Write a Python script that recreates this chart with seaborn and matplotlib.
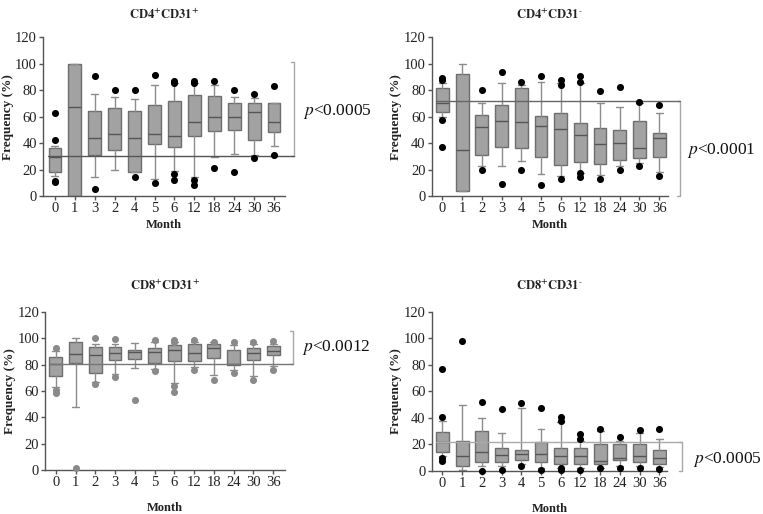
import numpy as np
import pandas as pd
import matplotlib
matplotlib.use("Agg")
import matplotlib.pyplot as plt
import seaborn as sns

months = ["0", "1", "2", "3", "4", "5", "6", "12", "18", "24", "30", "36"]
months_a = ["0", "1", "3", "2", "4", "5", "6", "12", "18", "24", "30", "36"]

# CD4+CD31+
a_lo = [15, 0, 14.5, 20, 18, 13, 19, 14, 29.5, 32, 31, 37.5]
a_q1 = [18.5, 0, 31, 35, 18.5, 39, 37, 45, 49, 50, 42.5, 48]
a_med = [29.5, 67, 43.5, 47, 44, 46.5, 45.5, 56, 60, 59.5, 63.5, 56]
a_q3 = [36, 100, 64, 66.5, 64.5, 69, 72, 76.5, 75.5, 70.5, 70.5, 70.5]
a_hi = [38, 100, 77, 75, 73, 83.5, 85, 85, 83.5, 75, 74, 70.5]
a_fl = [[63, 42.5, 11.5, 10.5], [], [91, 5.5], [80], [80, 14], [91.5, 9.5],
        [87, 85.5, 16.5, 12], [87, 85.5, 12, 8.5], [87, 21], [80, 18], [77, 29], [83, 31]]

# CD4+CD31-
b_lo = [60, 3.5, 22.5, 22.5, 26.5, 16.5, 15, 17, 16, 23, 25, 18]
b_q1 = [63.5, 3.5, 31, 37, 36.5, 29.5, 23.5, 25.5, 24, 27.5, 29, 29.5]
b_med = [70.5, 34.5, 52, 56.5, 56, 53, 50.5, 46, 39.5, 40, 36, 43.5]
b_q3 = [81.5, 92, 61.5, 68.5, 81.5, 60.5, 63, 55, 51, 50, 57, 47.5]
b_hi = [85, 100, 70.5, 85, 84, 86.5, 85, 85, 70.5, 67.5, 70, 62.5]
b_fl = [[89, 87.5, 57.5, 37], [], [80, 20], [94, 9], [86, 20], [90.5, 8.5],
        [88, 83.5, 13], [91, 86.5, 17, 14.5], [79, 13], [82, 20], [71, 22.5], [69, 15]]

# CD8+CD31+
c_lo = [63, 47.5, 67, 73, 77.5, 77, 66, 78, 72.5, 76, 71.5, 79]
c_q1 = [71.5, 81, 73.5, 83.5, 84.5, 81, 83, 82.5, 85, 80, 83.5, 87]
c_med = [80.5, 88, 87.5, 89, 89.5, 89.5, 91.5, 88.5, 93, 80.5, 89, 90.5]
c_q3 = [86, 97, 93.5, 93.5, 91.5, 93, 95, 95.5, 96, 91.5, 93, 94]
c_hi = [90, 100, 96, 96, 96.5, 97, 97, 97, 97, 95, 96, 96]
c_fl = [[93, 61, 58.5], [1.5], [100, 65], [99.5, 70.5], [53.5], [99, 75],
        [99, 97.5, 64, 59.5], [99, 76], [97.5, 68], [97.5, 73.5], [97.5, 68], [98, 76]]

# CD8+CD31-
d_lo = [11, 0.5, 4, 4, 5, 2, 2.5, 2, 2.5, 4, 4, 3]
d_q1 = [14, 4, 6.5, 6.5, 8, 6.5, 5, 5, 5, 8.5, 7, 5.5]
d_med = [21.5, 11.5, 14, 12, 12.5, 12.5, 11.5, 11.5, 7.5, 9.5, 11.5, 9.5]
d_q3 = [29.5, 23, 30, 17.5, 15.5, 22, 17, 17.5, 20.5, 20.5, 20.5, 16]
d_hi = [38, 49.5, 40, 29, 47.5, 32, 37, 23, 30, 23, 28.5, 24.5]
d_fl = [[77, 41, 10, 7.5], [98], [52, 0], [47, 0.5], [51, 3.5], [47.5, 1],
        [40.5, 38, 2, 0.5], [28, 24, 1], [32, 2], [26, 2], [31, 2], [31.5, 1.5]]

titles = [r"$\mathbf{CD4^{+}CD31^{+}}$", r"$\mathbf{CD4^{+}CD31^{\text{-}}}$",
          r"$\mathbf{CD8^{+}CD31^{+}}$", r"$\mathbf{CD8^{+}CD31^{\text{-}}}$"]
pvals = ["0.0005", "0.0001", "0.0012", "0.0005"]
ref_vals = [30, 71.5, 80.6, 21.5]
brackets = [(30, 101), (0, 71.5), (80.6, 105.5), (0, 21.5)]

sns.set_theme(style="ticks")
plt.rcParams["font.family"] = ["Liberation Serif", "DejaVu Serif"]
plt.rcParams["mathtext.fontset"] = "stix"

fig = plt.figure(figsize=(7.63, 5.14), dpi=100)
axes = [
    fig.add_axes([0.0564, 0.6187, 0.3171, 0.309]),
    fig.add_axes([0.566, 0.6187, 0.3093, 0.309]),
    fig.add_axes([0.0596, 0.0856, 0.3139, 0.3074]),
    fig.add_axes([0.566, 0.0837, 0.3083, 0.3093]),
]

panels = [
    (months_a, a_lo, a_q1, a_med, a_q3, a_hi, a_fl, "black", "#555555", (-0.6, 11.55), 12.0, (12.45, 63.8)),
    (months, b_lo, b_q1, b_med, b_q3, b_hi, b_fl, "black", "#666666", (-0.54, 11.44), 12.05, (12.4, 34.7)),
    (months, c_lo, c_q1, c_med, c_q3, c_hi, c_fl, "#8a8a8a", "#777777", (-0.52, 11.6), 12.0, (12.45, 93.4)),
    (months, d_lo, d_q1, d_med, d_q3, d_hi, d_fl, "black", "#aaaaaa", (-0.54, 11.4), 12.15, (12.7, 8.3)),
]

for i, ax in enumerate(axes):
    labels, lo, q1, med, q3, hi, fl, fcol, rcol, xlim, bx, (tx, ty) = panels[i]
    stats = [dict(whislo=lo[k], q1=q1[k], med=med[k], q3=q3[k], whishi=hi[k], fliers=[])
             for k in range(len(labels))]
    ax.bxp(stats, positions=np.arange(len(labels)), widths=0.65, capwidths=0.35,
           patch_artist=True, showfliers=False,
           boxprops=dict(facecolor="#a2a2a2", edgecolor="#6e6e6e", linewidth=1),
           medianprops=dict(color="#555555", linewidth=1),
           whiskerprops=dict(color="#8c8c8c", linewidth=1),
           capprops=dict(color="#8c8c8c", linewidth=1))
    pts = pd.DataFrame([(k, v) for k in range(len(labels)) for v in fl[k]], columns=["pos", "val"])
    sns.scatterplot(data=pts, x="pos", y="val", color=fcol, s=26, linewidth=0,
                    ax=ax, zorder=4, legend=False, clip_on=False)

    # reference line at baseline median + bracket
    ax.plot([-0.33, bx], [ref_vals[i], ref_vals[i]], color=rcol, lw=1, clip_on=False, zorder=3)
    blo, bhi = brackets[i]
    ax.plot([bx - 0.15, bx, bx, bx - 0.15], [blo, blo, bhi, bhi], color="#a8a8a8",
            lw=1, clip_on=False)
    ax.text(tx, ty, r"$\mathit{p}$<" + pvals[i], fontsize=12.5, va="center", ha="left",
            color="#111111")

    ax.set_xlim(*xlim)
    ax.set_ylim(0, 120)
    ax.set_yticks(range(0, 121, 20))
    ax.set_xticks(np.arange(len(labels)))
    ax.set_xticklabels(labels)
    ax.tick_params(labelsize=10.5, colors="#555555", labelcolor="#222222", length=3,
                   width=1, pad=1.5)
    for s in ["left", "bottom"]:
        ax.spines[s].set_color("#555555")
        ax.spines[s].set_linewidth(1)
    sns.despine(ax=ax)
    top = i < 2
    ax.set_xlabel("Month", fontsize=9, fontweight="bold", labelpad=3 if top else 9,
                  color="#222222")
    ax.set_ylabel("Frequency (%)", fontsize=9.5, fontweight="bold", labelpad=1, color="#222222")
    ax.set_title(titles[i], fontsize=9, pad=13 if top else 16, color="#222222")

fig.savefig("out.png", dpi=100)
